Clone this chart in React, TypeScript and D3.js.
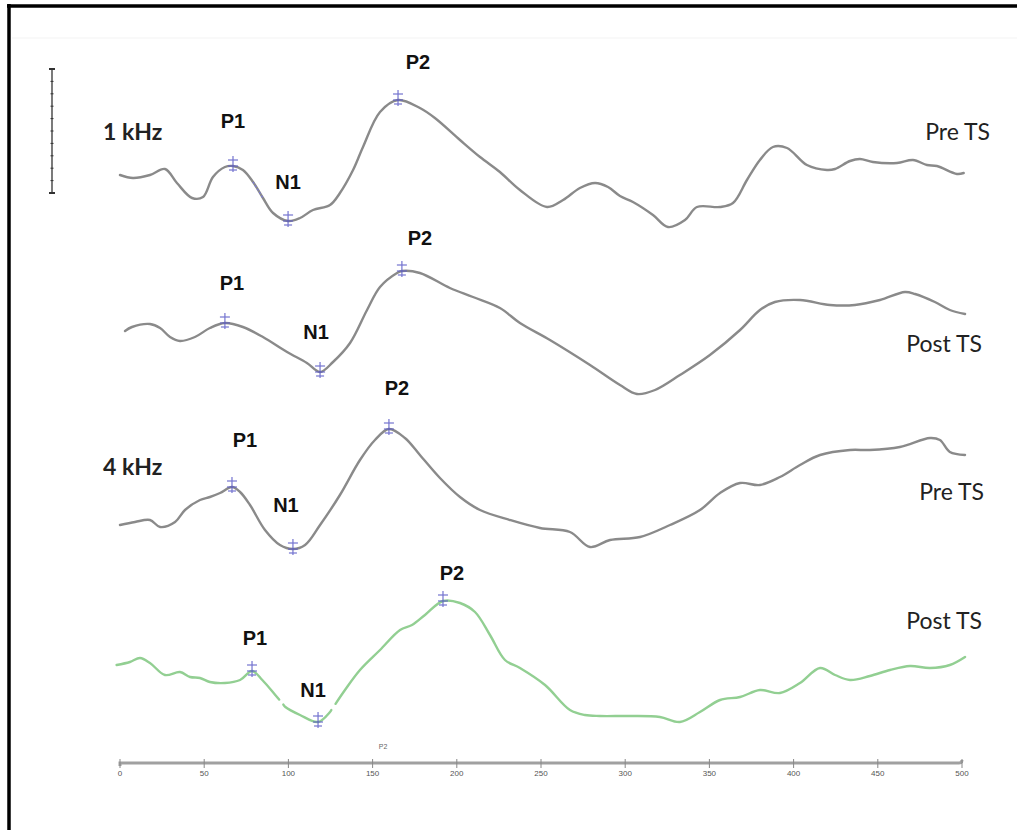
import React from "react";
import * as d3 from "d3";

// ---- Data (latency ms, amplitude arbitrary units) ----
const pre1k: [number, number][] = [
  [0, 0], [7.7, -0.3], [17.8, 0], [26.7, 0.6], [33.8, -0.8], [42.8, -2.3], [49.3, -2.2], [55.2, -0.2],
  [62.3, 0.8], [67.1, 0.9], [73.0, 0.5], [79.0, -0.7], [84.9, -2.3], [90.9, -3.8], [99.8, -4.6], [106.9, -4.3],
  [114.6, -3.5], [124.7, -3.0], [130.6, -1.8], [138.4, 0.5], [144.3, 2.8], [154.4, 6.3], [165.1, 7.5], [178.1, 6.7],
  [187.0, 5.7], [201.9, 3.5], [213.8, 1.8], [225.6, 0.3], [237.5, -1.5], [253.6, -3.2], [263.1, -2.5], [273.1, -1.3],
  [282.1, -0.8], [289.8, -1.2], [296.9, -2.1], [304.6, -2.7], [316.5, -4.0], [325.4, -5.2], [335.5, -4.5], [342.6, -3.2],
  [356.3, -3.2], [364.0, -2.8], [372.3, -0.5], [380.0, 1.5], [387.7, 2.8], [396.1, 2.7], [407.9, 1.0], [419.8, 0.5],
  [424.6, 0.6], [433.5, 1.4], [439.4, 1.6], [447.1, 1.3], [461.4, 1.2], [470.9, 1.5], [479.2, 1.0], [485.1, 0.9],
  [497.0, 0.1], [501, 0.2],
];
const post1k: [number, number][] = [
  [3.0, -0.6], [7.1, -0.2], [17.8, 0.1], [23.8, -0.3], [29.7, -1.2], [35.6, -1.6], [44.5, -1.2], [53.4, -0.3],
  [62.3, 0.2], [73.0, -0.2], [84.9, -1.2], [99.2, -2.7], [111.0, -3.8], [118.8, -4.7], [126.5, -3.7], [136.6, -1.8],
  [146.7, 1.5], [154.4, 3.8], [164.5, 5.2], [167.4, 5.4], [178.1, 5.2], [195.9, 3.7], [209.6, 2.8], [225.6, 1.7],
  [237.5, 0.2], [255.3, -1.5], [279.1, -4.0], [296.9, -6.0], [307.0, -6.9], [317.7, -6.5], [332.5, -5.0], [350.3, -3.0],
  [368.2, -0.5], [380.0, 1.5], [388.9, 2.3], [403.8, 2.5], [421.6, 2.0], [436.4, 2.0], [451.3, 2.5], [466.1, 3.3],
  [472.1, 3.1], [483.9, 2.3], [492.8, 1.5], [501.8, 1.1],
];
const pre4k: [number, number][] = [
  [0, 0], [8.9, 0.3], [17.8, 0.5], [23.8, -0.2], [32.7, 0.3], [38.6, 1.5], [47.5, 2.5], [53.4, 2.8],
  [59.4, 3.2], [66.5, 3.8], [71.3, 3.3], [77.2, 2.0], [86.1, -0.5], [95.0, -2.0], [102.7, -2.4], [109.9, -2.0],
  [118.8, 0], [130.6, 3.0], [142.5, 6.5], [151.4, 8.5], [159.7, 9.6], [169.2, 8.7], [178.1, 7.0], [190.0, 4.7],
  [201.9, 2.8], [213.8, 1.5], [231.6, 0.5], [249.4, -0.3], [267.2, -0.7], [279.1, -2.2], [291.0, -1.5], [308.8, -1.2],
  [326.6, 0], [344.4, 1.5], [356.3, 3.2], [368.2, 4.2], [380.0, 4.0], [391.9, 4.8], [403.8, 6.0], [415.7, 7.0],
  [433.5, 7.5], [445.3, 7.5], [463.1, 7.8], [481.0, 8.7], [486.9, 8.5], [492.8, 7.3], [501.8, 7.0],
];
const post4k: [number, number][] = [
  [-2, 0], [5.9, 0.3], [11.9, 0.7], [17.8, 0.2], [26.7, -1.0], [35.6, -0.7], [41.6, -1.2], [47.5, -1.3],
  [53.4, -1.7], [62.3, -1.8], [71.3, -1.5], [78.4, -0.6], [84.5, -1.5], [92.2, -3.0], [98.2, -4.2], [106.9, -5.0],
  [117.6, -5.7], [124.7, -4.7], [133.6, -2.5], [142.5, -0.5], [154.4, 1.5], [166.3, 3.5], [173.4, 4.0], [181.1, 5.0],
  [191.8, 6.4], [201.9, 6.2], [210.8, 5.3], [219.7, 3.0], [228.6, 0.5], [237.5, -0.3], [252.4, -2.0], [267.2, -4.5],
  [276.1, -5.0], [285.0, -5.1], [302.8, -5.1], [320.6, -5.2], [332.5, -5.7], [344.4, -4.7], [356.3, -3.5], [368.2, -3.2],
  [380.0, -2.5], [391.9, -2.8], [403.8, -1.8], [415.7, -0.3], [424.6, -1.0], [433.5, -1.5], [445.3, -1.1], [457.2, -0.5],
  [469.1, -0.1], [481.0, -0.3], [492.8, 0], [501.8, 0.8],
];

const peakNames = ["P1", "N1", "P2"];
const pre1kPeaks = [67.1, 99.8, 165.1];
const post1kPeaks = [62.3, 118.8, 167.4];
const pre4kPeaks = [66.5, 102.7, 159.7];
const post4kPeaks = [78.4, 117.6, 191.8];

const conditionLabels = ["Pre TS", "Post TS", "Pre TS", "Post TS"];
const frequencyLabels = ["1 kHz", "", "4 kHz", ""];
const xTicks = [0, 50, 100, 150, 200, 250, 300, 350, 400, 450, 500];
const post4kGaps: [number, number][] = [[94.5, 97], [125.5, 128]];

// ---- Layout ----
const W = 1017;
const H = 830;
const x = d3.scaleLinear().domain([0, 500]).range([120, 962]);
const amp = d3.scaleLinear().domain([0, 1]).range([0, -10]);

type Trace = {
  data: [number, number][];
  peaks: number[];
  base: number;
  color: string;
  labelOff: [number, number][];
  condPos: [number, number];
  freqY: number;
  gaps?: [number, number][];
  blueDash?: [number, number];
};

const traces: Trace[] = [
  { data: pre1k, peaks: pre1kPeaks, base: 175, color: "#8a8a8a", labelOff: [[0, -38], [0, -32], [20, -31]], condPos: [990, 140], freqY: 140, blueDash: [82, 87] },
  { data: post1k, peaks: post1kPeaks, base: 325, color: "#8a8a8a", labelOff: [[7, -33], [-4, -33], [18, -26]], condPos: [982, 352], freqY: 0 },
  { data: pre4k, peaks: pre4kPeaks, base: 525, color: "#8a8a8a", labelOff: [[13, -40], [-7, -37], [8, -34]], condPos: [984, 500], freqY: 475 },
  { data: post4k, peaks: post4kPeaks, base: 665, color: "#92cf92", labelOff: [[3, -26], [-5, -25], [9, -21]], condPos: [982, 629], freqY: 0, gaps: post4kGaps },
];

function interp(data: [number, number][], ms: number): number {
  for (let i = 0; i < data.length - 1; i++) {
    const [x0, y0] = data[i];
    const [x1, y1] = data[i + 1];
    if (ms >= x0 && ms <= x1) return y0 + ((ms - x0) / (x1 - x0)) * (y1 - y0);
  }
  return data[data.length - 1][1];
}

function segments(data: [number, number][], gaps?: [number, number][]): [number, number][][] {
  if (!gaps || gaps.length === 0) return [data];
  const out: [number, number][][] = [];
  let cur: [number, number][] = [];
  let gi = 0;
  for (let i = 0; i < data.length; i++) {
    const p = data[i];
    while (gi < gaps.length && p[0] > gaps[gi][0]) {
      const [a, b] = gaps[gi];
      cur.push([a, interp(data, a)]);
      out.push(cur);
      cur = [[b, interp(data, b)]];
      gi++;
    }
    const inGap = gaps.some(([a, b]) => p[0] > a && p[0] < b);
    if (!inGap) cur.push(p);
  }
  out.push(cur);
  return out;
}

const Marker = ({ cx, cy }: { cx: number; cy: number }) => (
  <g stroke="#5c5cc8" strokeWidth={1.2} opacity={0.85}>
    <line x1={cx} x2={cx} y1={cy - 8} y2={cy + 8} />
    <line x1={cx - 5} x2={cx + 5} y1={cy - 4} y2={cy - 4} />
    <line x1={cx - 5} x2={cx + 5} y1={cy + 2} y2={cy + 2} />
    <line x1={cx - 4} x2={cx + 4} y1={cy + 6} y2={cy + 6} />
  </g>
);

export default function App() {
  const boldFont = "'Liberation Sans', Arial, sans-serif";
  const calFont = "Lato, 'Open Sans', sans-serif";
  const scaleTicks = d3.range(0, 11);
  return (
    <svg width={W} height={H} style={{ position: "absolute", left: 0, top: 0, background: "#fff" }}>
      <rect x={0} y={0} width={W} height={H} fill="#fff" />
      {/* frame */}
      <line x1={7} x2={W} y1={6} y2={6} stroke="#000" strokeWidth={3.5} />
      <line x1={9} x2={9} y1={4} y2={H} stroke="#000" strokeWidth={3.5} />
      <line x1={12} x2={W} y1={38} y2={38} stroke="#f3f3f3" strokeWidth={1} />

      {/* scale bar */}
      <g stroke="#333" strokeWidth={1.3}>
        <line x1={52} x2={52} y1={69} y2={193} />
        <line x1={49} x2={55} y1={69} y2={69} strokeWidth={2} />
        <line x1={49} x2={55} y1={193} y2={193} strokeWidth={2} />
        {scaleTicks.map((t) => (
          <line key={t} x1={50.5} x2={53.5} y1={69 + (t * 124) / 10} y2={69 + (t * 124) / 10} strokeWidth={1} />
        ))}
      </g>

      {traces.map((tr, ti) => {
        const line = d3
          .line<[number, number]>()
          .x((d) => x(d[0]))
          .y((d) => tr.base + amp(d[1]))
          .curve(d3.curveCatmullRom.alpha(0.5));
        const segs = segments(tr.data, tr.gaps);
        return (
          <g key={ti}>
            {segs.map((s, si) => (
              <path key={si} d={line(s) || ""} fill="none" stroke={tr.color} strokeWidth={2.4} strokeLinejoin="round" strokeLinecap="round" />
            ))}
            {tr.blueDash && (
              <path
                d={line(tr.data.filter((d) => d[0] >= tr.blueDash![0] - 3 && d[0] <= tr.blueDash![1] + 3)) || ""}
                fill="none"
                stroke="#7a7ad8"
                strokeWidth={1.3}
                strokeDasharray="2,2"
              />
            )}
            {tr.peaks.map((ms, pi) => {
              const cx = x(ms);
              const cy = tr.base + amp(interp(tr.data, ms));
              const [dx, dy] = tr.labelOff[pi];
              return (
                <g key={pi}>
                  <Marker cx={cx} cy={cy - 2} />
                  <text
                    x={cx + dx}
                    y={cy + dy}
                    textAnchor="middle"
                    fontFamily={boldFont}
                    fontWeight="bold"
                    fontSize={20}
                    fill="#111"
                  >
                    {peakNames[pi]}
                  </text>
                </g>
              );
            })}
            <text x={tr.condPos[0]} y={tr.condPos[1]} textAnchor="end" fontFamily={calFont} fontSize={23} fill="#222">
              {conditionLabels[ti]}
            </text>
            {frequencyLabels[ti] && (
              <text x={103} y={tr.freqY} fontFamily={calFont} fontWeight="bold" fontSize={23} fill="#222">
                {frequencyLabels[ti]}
              </text>
            )}
          </g>
        );
      })}

      {/* x axis */}
      <g>
        <path d={`M${x(0)},766 L${x(0)},763 L${x(500) - 3},763 Q${x(500)},763 ${x(500)},760`} fill="none" stroke="#a0a0a0" strokeWidth={3} />
        {xTicks.map((t) => (
          <g key={t}>
            <line x1={x(t)} x2={x(t)} y1={759} y2={768} stroke="#888" strokeWidth={1} />
            <text x={x(t)} y={776} textAnchor="middle" fontFamily={boldFont} fontSize={8} fill="#555">
              {t}
            </text>
          </g>
        ))}
        <text x={383} y={749} textAnchor="middle" fontFamily={boldFont} fontSize={7} fill="#666">
          P2
        </text>
      </g>
    </svg>
  );
}
